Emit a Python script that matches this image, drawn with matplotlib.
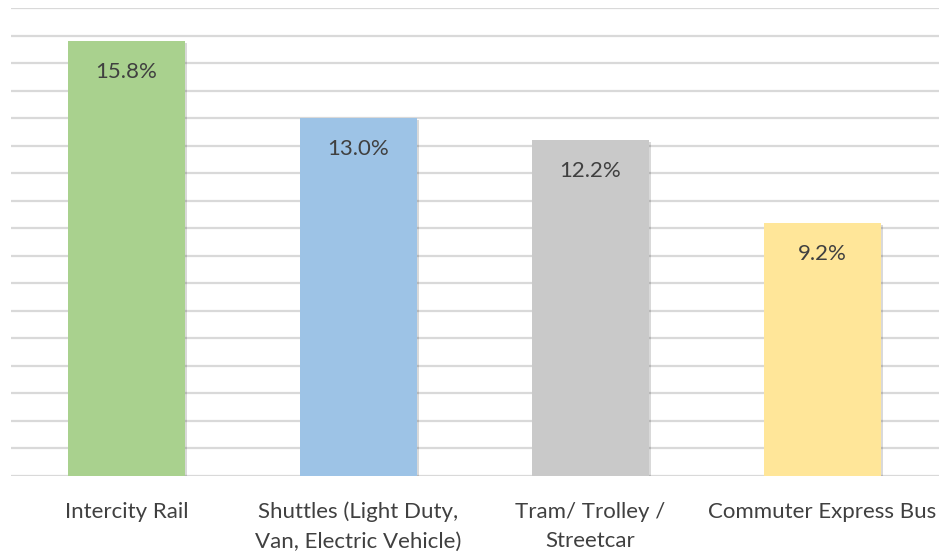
import matplotlib
matplotlib.use("Agg")
import matplotlib.pyplot as plt
from matplotlib import patheffects as pe

categories = ["Intercity Rail", "Shuttles (Light Duty,\nVan, Electric Vehicle)",
              "Tram/ Trolley /\nStreetcar", "Commuter Express Bus"]
values = [15.8, 13.0, 12.2, 9.2]
labels = ["15.8%", "13.0%", "12.2%", "9.2%"]
colors = ["#A9D18E", "#9DC3E6", "#C9C9C9", "#FFE699"]

plt.rcParams['font.family'] = ['Lato', 'DejaVu Sans']
fig = plt.figure(figsize=(9.42, 5.54), dpi=100)
ax = fig.add_axes([10.5/942, 78/554, 928/942, 468/554])
x = range(len(categories))
bars = ax.bar(x, values, width=0.505, color=colors, zorder=3)
for b in bars:
    b.set_path_effects([pe.SimplePatchShadow(offset=(1.5, -1.5), shadow_rgbFace='#000000', alpha=0.15), pe.Normal()])
ax.set_ylim(0, 17)
ax.set_xlim(-0.5, 3.5)
ax.set_yticks(range(0, 18))
ax.yaxis.grid(True, color="#D9D9D9", linewidth=1.6, zorder=0)
ax.tick_params(axis='y', left=False, labelleft=False)
ax.tick_params(axis='x', bottom=False, labelsize=16, labelcolor="#404040", pad=15)
ax.set_xticks(list(x))
ax.set_xticklabels(categories, linespacing=1.6, va='top')
for s in ax.spines.values():
    s.set_visible(False)
for xi, v, lab in zip(x, values, labels):
    ax.annotate(lab, (xi, v), xytext=(0, -31), textcoords='offset pixels',
                ha='center', va='center', fontsize=16, color="#404040", zorder=4)
fig.savefig("out.png", dpi=100)
